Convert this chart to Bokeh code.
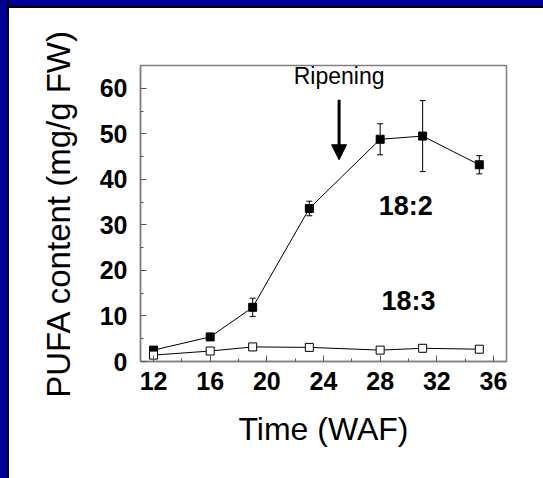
from bokeh.plotting import figure
from bokeh.models import Range1d, FixedTicker, Whisker, ColumnDataSource, Arrow, NormalHead, Div
from bokeh.layouts import row, column
from bokeh.core.properties import value
from bokeh.embed import file_html
from bokeh.resources import INLINE

# ---- data ----
weeks = [12, 16, 19, 23, 28, 31, 35]
c18_2 = [2.5, 5.4, 11.9, 33.6, 48.8, 49.5, 43.2]
c18_2_err = [0.5, 0.5, 2.0, 1.6, 3.4, 7.8, 2.0]
c18_3 = [1.4, 2.3, 3.2, 3.1, 2.5, 2.9, 2.7]
c18_3_err = [0.4, 0.0, 0.4, 0.4, 0.4, 0.0, 0.4]
x_ticks = [12, 16, 20, 24, 28, 32, 36]
y_ticks = [0, 10, 20, 30, 40, 50, 60]
series_names = ["18:2", "18:3"]
series_label_x = [29.8, 30.0]
series_label_y = [34.2, 13.3]
ripening_week = 25.1
ripening_label = "Ripening"

FONT = "Liberation Sans"
GRAY = "#808080"
BLUE = "#000099"

p = figure(width=534, height=470, output_backend="svg", toolbar_location=None,
           x_range=Range1d(11.08, 36.92), y_range=Range1d(0, 65),
           min_border_left=131, min_border_right=37, min_border_top=57, min_border_bottom=117,
           background_fill_color="white", border_fill_color="white", margin=0)
p.grid.visible = False
p.outline_line_color = GRAY
p.outline_line_width = 1.5

p.xaxis.ticker = FixedTicker(ticks=x_ticks, minor_ticks=[14, 18, 22, 26, 30, 34])
p.yaxis.ticker = FixedTicker(ticks=y_ticks, minor_ticks=[5, 15, 25, 35, 45, 55])
for ax in (p.xaxis[0], p.yaxis[0]):
    ax.axis_line_color = GRAY
    ax.axis_line_width = 1.5
    ax.major_tick_in = 6
    ax.major_tick_out = 0
    ax.minor_tick_in = 3
    ax.minor_tick_out = 0
    ax.major_tick_line_color = "#555555"
    ax.minor_tick_line_color = "#555555"
    ax.major_label_text_font = FONT
    ax.major_label_text_font_style = "bold"
    ax.major_label_text_font_size = "25px"
    ax.major_label_text_color = "black"
    ax.axis_label_text_font = FONT
    ax.axis_label_text_font_style = "normal"
    ax.axis_label_text_color = "black"
p.xaxis.axis_label_text_font_size = "32px"
p.yaxis.axis_label_text_font_size = "33px"
p.xaxis.major_label_standoff = 10
p.yaxis.major_label_standoff = 13
p.xaxis.axis_label = "Time (WAF)"
p.yaxis.axis_label = "PUFA content (mg/g FW)"
p.xaxis.axis_label_standoff = 18
p.yaxis.axis_label_standoff = 20

src2 = ColumnDataSource(dict(x=weeks, y=c18_2,
                             lo=[v - e for v, e in zip(c18_2, c18_2_err)],
                             hi=[v + e for v, e in zip(c18_2, c18_2_err)]))
src3 = ColumnDataSource(dict(x=weeks, y=c18_3,
                             lo=[v - e for v, e in zip(c18_3, c18_3_err)],
                             hi=[v + e for v, e in zip(c18_3, c18_3_err)]))

p.line("x", "y", source=src2, line_color="black", line_width=1)
p.line("x", "y", source=src3, line_color="black", line_width=1)
w2 = Whisker(source=src2, base="x", lower="lo", upper="hi", line_color="black", line_width=1)
w2.upper_head.size = 6
w2.lower_head.size = 6
w2.upper_head.line_color = "black"
w2.lower_head.line_color = "black"
p.add_layout(w2)
p.scatter("x", "y", source=src2, marker="square", size=8, fill_color="black", line_color="black")
p.scatter("x", "y", source=src3, marker="square", size=8, fill_color="white", line_color="black", line_width=1)
w3 = Whisker(source=src3, base="x", lower="lo", upper="hi", line_color="#444444", line_width=1)
w3.upper_head.size = 6
w3.lower_head.size = 6
w3.upper_head.line_color = "#444444"
w3.lower_head.line_color = "#444444"
p.add_layout(w3)

p.text(x=series_label_x, y=series_label_y, text=series_names, text_font=value(FONT),
       text_font_style="bold", text_font_size="27px", text_align="center",
       text_baseline="middle", text_color="black")
p.text(x=[ripening_week], y=[62.6], text=[ripening_label], text_font=value(FONT),
       text_font_size="23px", text_align="center", text_baseline="middle", text_color="black")
p.add_layout(Arrow(end=NormalHead(size=15, fill_color="black", line_color="black"),
                   x_start=ripening_week, y_start=57.5, x_end=ripening_week, y_end=44.3,
                   line_width=3, line_color="black"))

left_blue = Div(text="", width=7, height=478, margin=0, styles={"background-color": BLUE})
left_black = Div(text="", width=2, height=478, margin=0, styles={"background-color": "black"})
top_blue = Div(text="", width=534, height=6, margin=0, styles={"background-color": BLUE})
top_black = Div(text="", width=534, height=2, margin=0, styles={"background-color": "black"})
page = row(left_blue, left_black, column(top_blue, top_black, p, spacing=0, margin=0),
           spacing=0, margin=0)

open("out.html", "w").write(file_html(page, INLINE))
